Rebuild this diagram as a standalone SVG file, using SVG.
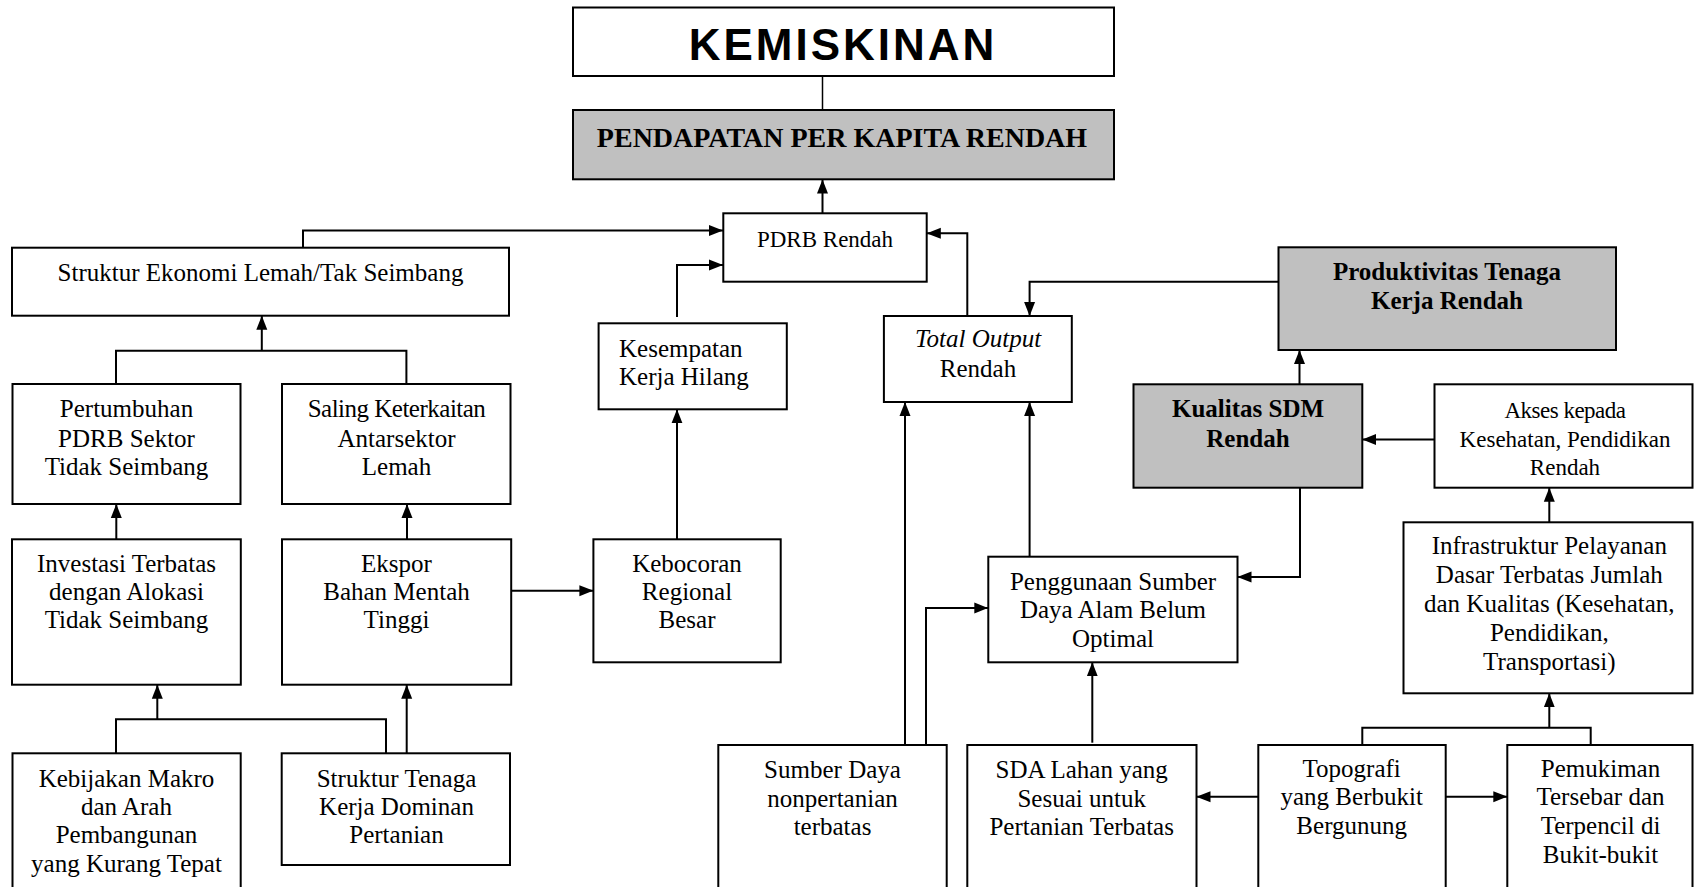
<svg xmlns="http://www.w3.org/2000/svg" width="1694" height="887" viewBox="0 0 1694 887">
<style>
.box{fill:#fff;stroke:#000;stroke-width:2}
.grey{fill:#c0c0c0;stroke:#000;stroke-width:2}
.t{font-family:"Liberation Serif","Times New Roman",serif;font-size:25px;fill:#000;text-anchor:middle}
.b{font-weight:bold}
.c{fill:none;stroke:#000;stroke-width:2}
.a{marker-end:url(#arr)}
</style>
<defs>
<marker id="arr" markerUnits="userSpaceOnUse" markerWidth="14" markerHeight="12" refX="14" refY="6" orient="auto">
<path d="M0,0.5 L14,6 L0,11.5 z" fill="#000"/>
</marker>
</defs>
<rect width="1694" height="887" fill="#fff"/>

<g id="connectors">
<path class="c" d="M822.5 76 V110" style="stroke-width:1.5"/>
<path class="c a" d="M822.5 213.3 V179.5"/>
<path class="c a" d="M303 247.7 V230.5 H723"/>
<path class="c a" d="M677 317 V265 H723"/>
<path class="c a" d="M967.3 316 V233.3 H926.8"/>
<path class="c a" d="M1278.5 281.7 H1029.6 V316"/>
<path class="c a" d="M1299.5 384.3 V350"/>
<path class="c a" d="M1434.5 439.5 H1362.3"/>
<path class="c a" d="M1300 487.7 V577 H1237.5"/>
<path class="c a" d="M1549.3 522.5 V487.7"/>
<path class="c" d="M1362.3 745 V727.7 H1590.7 V745"/>
<path class="c a" d="M1549.3 727.7 V693.3"/>
<path class="c a" d="M1258.3 796.7 H1196.5"/>
<path class="c a" d="M1445.7 796.7 H1507.3"/>
<path class="c a" d="M1092.3 742.7 V662.3"/>
<path class="c a" d="M905 745 V402"/>
<path class="c a" d="M926 745 V608 H988.3"/>
<path class="c a" d="M1029.6 556.7 V402"/>
<path class="c a" d="M677 539.3 V409.3"/>
<path class="c a" d="M511.2 590.7 H593.4"/>
<path class="c a" d="M407 539.3 V504"/>
<path class="c a" d="M116.3 539.3 V504"/>
<path class="c" d="M116 384 V350.7 H406.4 V384"/>
<path class="c a" d="M261.8 350.7 V315.7"/>
<path class="c" d="M116 753.3 V719.3 H386 V753.3"/>
<path class="c a" d="M157.3 719.3 V684.7"/>
<path class="c a" d="M406.7 753.3 V684.7"/>
</g>

<g id="kemiskinan">
<rect class="box" x="573" y="7.5" width="541" height="68.5"/>
<text x="843" y="60" style="font-family:'Liberation Sans',Arial,sans-serif;font-size:44px;font-weight:bold;letter-spacing:3px;text-anchor:middle">KEMISKINAN</text>
</g>

<g id="pendapatan">
<rect class="grey" x="573" y="110" width="541" height="69.3"/>
<text class="t b" x="842" y="146.7" style="font-size:28px">PENDAPATAN PER KAPITA RENDAH</text>
</g>

<g id="pdrb">
<rect class="box" x="723.3" y="213.3" width="203.4" height="68.4"/>
<text class="t" x="825" y="246.7" style="font-size:23px">PDRB Rendah</text>
</g>

<g id="struktur-ekonomi">
<rect class="box" x="12" y="247.7" width="497" height="68"/>
<text class="t" x="260.5" y="281">Struktur Ekonomi Lemah/Tak Seimbang</text>
</g>

<g id="kesempatan">
<rect class="box" x="598.6" y="323.3" width="188.2" height="86"/>
<text class="t" x="619" y="356.7" style="text-anchor:start">Kesempatan</text>
<text class="t" x="619" y="385" style="text-anchor:start">Kerja Hilang</text>
</g>

<g id="total-output">
<rect class="box" x="883.9" y="316" width="187.9" height="86"/>
<text class="t" x="978" y="346.7" style="font-style:italic">Total Output</text>
<text class="t" x="978" y="376.7">Rendah</text>
</g>

<g id="produktivitas">
<rect class="grey" x="1278.5" y="247.3" width="337.5" height="102.7"/>
<text class="t b" x="1447" y="280">Produktivitas Tenaga</text>
<text class="t b" x="1447" y="309.3">Kerja Rendah</text>
</g>

<g id="kualitas-sdm">
<rect class="grey" x="1133.5" y="384.3" width="228.8" height="103.4"/>
<text class="t b" x="1248" y="416.7">Kualitas SDM</text>
<text class="t b" x="1248" y="446.7">Rendah</text>
</g>

<g id="akses">
<rect class="box" x="1434.5" y="384.3" width="258" height="103.4"/>
<text class="t" x="1565" y="418.3" style="font-size:23px;letter-spacing:-0.5px">Akses kepada</text>
<text class="t" x="1565" y="447.3" style="font-size:23px">Kesehatan, Pendidikan</text>
<text class="t" x="1565" y="475" style="font-size:23px">Rendah</text>
</g>

<g id="pertumbuhan">
<rect class="box" x="12.5" y="384" width="228" height="120"/>
<text class="t" x="126.5" y="416.7">Pertumbuhan</text>
<text class="t" x="126.5" y="446.7">PDRB Sektor</text>
<text class="t" x="126.5" y="475">Tidak Seimbang</text>
</g>

<g id="saling-keterkaitan">
<rect class="box" x="282" y="384" width="228.5" height="120"/>
<text class="t" x="396.5" y="416.7" style="letter-spacing:-0.5px">Saling Keterkaitan</text>
<text class="t" x="396.5" y="446.7">Antarsektor</text>
<text class="t" x="396.5" y="475">Lemah</text>
</g>

<g id="investasi">
<rect class="box" x="12" y="539.3" width="228.8" height="145.4"/>
<text class="t" x="126.5" y="571.7">Investasi Terbatas</text>
<text class="t" x="126.5" y="600">dengan Alokasi</text>
<text class="t" x="126.5" y="628.3">Tidak Seimbang</text>
</g>

<g id="ekspor">
<rect class="box" x="282" y="539.3" width="229.2" height="145.4"/>
<text class="t" x="396.5" y="571.7">Ekspor</text>
<text class="t" x="396.5" y="600">Bahan Mentah</text>
<text class="t" x="396.5" y="628.3">Tinggi</text>
</g>

<g id="kebocoran">
<rect class="box" x="593.4" y="539.3" width="187.3" height="123"/>
<text class="t" x="687" y="571.7">Kebocoran</text>
<text class="t" x="687" y="600">Regional</text>
<text class="t" x="687" y="628.3">Besar</text>
</g>

<g id="penggunaan-sda">
<rect class="box" x="988.3" y="556.7" width="249.2" height="105.6"/>
<text class="t" x="1113" y="590">Penggunaan Sumber</text>
<text class="t" x="1113" y="618.3">Daya Alam Belum</text>
<text class="t" x="1113" y="646.7">Optimal</text>
</g>

<g id="infrastruktur">
<rect class="box" x="1403.5" y="522.3" width="289" height="171"/>
<text class="t" x="1549.3" y="554">Infrastruktur Pelayanan</text>
<text class="t" x="1549.3" y="583.3">Dasar Terbatas Jumlah</text>
<text class="t" x="1549.3" y="611.7">dan Kualitas (Kesehatan,</text>
<text class="t" x="1549.3" y="640.7">Pendidikan,</text>
<text class="t" x="1549.3" y="670">Transportasi)</text>
</g>

<g id="kebijakan-makro">
<rect class="box" x="12.5" y="753.3" width="228.2" height="150"/>
<text class="t" x="126.5" y="786.7">Kebijakan Makro</text>
<text class="t" x="126.5" y="815">dan Arah</text>
<text class="t" x="126.5" y="843.3">Pembangunan</text>
<text class="t" x="126.5" y="871.7">yang Kurang Tepat</text>
</g>

<g id="struktur-tenaga-kerja">
<rect class="box" x="281.7" y="753.3" width="228.3" height="111.7"/>
<text class="t" x="396.5" y="786.7">Struktur Tenaga</text>
<text class="t" x="396.5" y="815">Kerja Dominan</text>
<text class="t" x="396.5" y="843.3">Pertanian</text>
</g>

<g id="sumber-daya-nonpertanian">
<rect class="box" x="718.3" y="745" width="228.4" height="160"/>
<text class="t" x="832.5" y="778.3">Sumber Daya</text>
<text class="t" x="832.5" y="806.7">nonpertanian</text>
<text class="t" x="832.5" y="835">terbatas</text>
</g>

<g id="sda-lahan">
<rect class="box" x="967.3" y="745" width="229.2" height="160"/>
<text class="t" x="1081.7" y="778.3">SDA Lahan yang</text>
<text class="t" x="1081.7" y="806.7">Sesuai untuk</text>
<text class="t" x="1081.7" y="835">Pertanian Terbatas</text>
</g>

<g id="topografi">
<rect class="box" x="1258.3" y="745" width="187.4" height="160"/>
<text class="t" x="1351.7" y="776.7">Topografi</text>
<text class="t" x="1351.7" y="805">yang Berbukit</text>
<text class="t" x="1351.7" y="834">Bergunung</text>
</g>

<g id="pemukiman">
<rect class="box" x="1507.3" y="745" width="185.2" height="160"/>
<text class="t" x="1600.5" y="776.7">Pemukiman</text>
<text class="t" x="1600.5" y="805">Tersebar dan</text>
<text class="t" x="1600.5" y="834">Terpencil di</text>
<text class="t" x="1600.5" y="863.3">Bukit-bukit</text>
</g>
</svg>
